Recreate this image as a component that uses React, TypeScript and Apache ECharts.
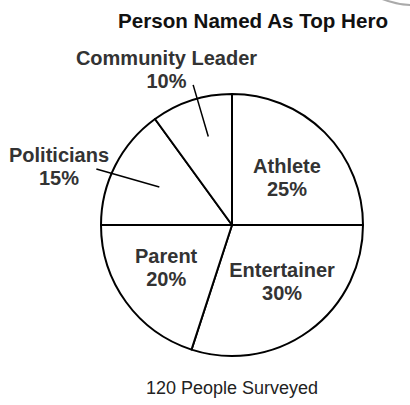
import React, { useEffect, useRef } from "react";
import * as echarts from "echarts";

const categories = ["Athlete", "Entertainer", "Parent", "Politicians", "Community Leader"];
const percents = [25, 30, 20, 15, 10];
const titleText = "Person Named As Top Hero";
const subtitleText = "120 People Surveyed";

// layout (style) constants
const CX = 232;
const CY = 225;
const R = 131;
// label placement in polar form: [angle clockwise from 12 o'clock (deg), radius fraction]
const labelPolar: [number, number][] = [
  [48.9, 0.557],
  [138.7, 0.579],
  [236.9, 0.6],
  [288.8, 1.395],
  [337.1, 1.285],
];
// leader line [start, end] in polar form, only for outside labels
const linePolar: ([number, number][] | null)[] = [
  null,
  null,
  null,
  [
    [297.6, 0.626],
    [292.4, 1.12],
  ],
  [
    [345, 0.7],
    [344.5, 1.11],
  ],
];

function polar(angDeg: number, frac: number): [number, number] {
  const a = (angDeg * Math.PI) / 180;
  return [CX + R * frac * Math.sin(a), CY - R * frac * Math.cos(a)];
}

export default function App() {
  const ref = useRef<HTMLDivElement>(null);
  useEffect(() => {
    if (!ref.current) return;
    const chart = echarts.init(ref.current, null, { renderer: "svg" });
    const font = "'Liberation Sans', Arial, Helvetica, sans-serif";
    const data = categories.map((name, i) => ({
      name,
      value: percents[i],
      label: { position: linePolar[i] ? "outside" : "inside" },
      labelLine: { show: false },
    }));
    const leaderLines = linePolar
      .map((lp) => {
        if (!lp) return null;
        const a = polar(lp[0][0], lp[0][1]);
        const b = polar(lp[1][0], lp[1][1]);
        return {
          type: "line",
          z: 10,
          shape: { x1: a[0], y1: a[1], x2: b[0], y2: b[1] },
          style: { stroke: "#000000", lineWidth: 1.5 },
        };
      })
      .filter(Boolean);
    chart.setOption({
      animation: false,
      backgroundColor: "#ffffff",
      graphic: [
        {
          type: "text",
          x: 253,
          y: 20,
          style: {
            text: titleText,
            font: `bold 20.6px ${font}`,
            fill: "#111111",
            textAlign: "center",
            textVerticalAlign: "middle",
          },
        },
        {
          type: "text",
          x: 232,
          y: 388,
          style: {
            text: subtitleText,
            font: `18px ${font}`,
            fill: "#222222",
            textAlign: "center",
            textVerticalAlign: "middle",
          },
        },
        {
          type: "arc",
          shape: { cx: 415, cy: -87.5, r: 92.5, startAngle: 1.3, endAngle: 2.0, clockwise: true },
          style: { stroke: "#aaaaaa", lineWidth: 2, fill: "none" },
        },
        ...leaderLines,
      ],
      series: [
        {
          type: "pie",
          center: [CX, CY],
          radius: R,
          startAngle: 90,
          clockwise: true,
          silent: true,
          data,
          itemStyle: { color: "#ffffff", borderColor: "#000000", borderWidth: 2 },
          label: {
            show: true,
            formatter: "{b}\n{c}%",
            fontFamily: font,
            fontWeight: "bold",
            fontSize: 20,
            lineHeight: 23,
            color: "#333333",
            align: "center",
            overflow: "none",
          },
          labelLine: { show: false },
          labelLayout: (params: any) => {
            const i = params.dataIndex;
            const [x, y] = polar(labelPolar[i][0], labelPolar[i][1]);
            return { x, y, align: "center", verticalAlign: "middle" };
          },
        },
      ],
    });
    return () => chart.dispose();
  }, []);
  return (
    <div
      ref={ref}
      style={{ position: "fixed", left: 0, top: 0, width: 410, height: 405 }}
    />
  );
}
